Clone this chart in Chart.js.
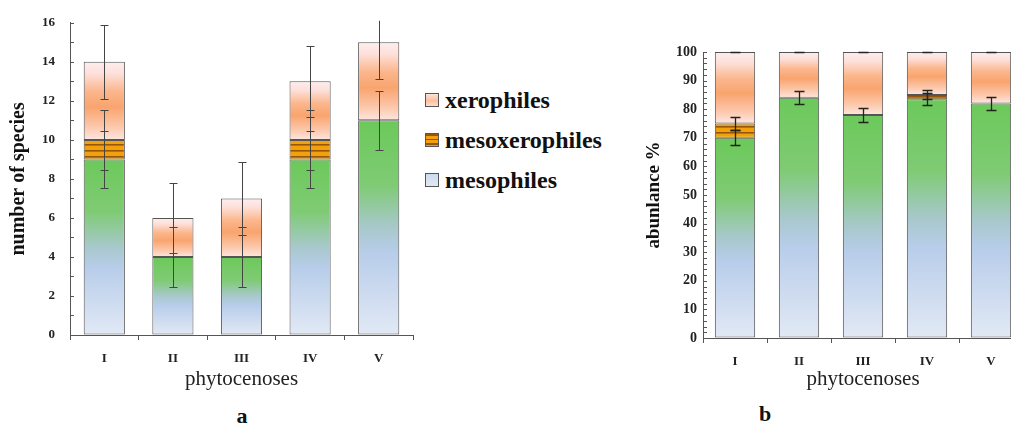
<!DOCTYPE html>
<html>
<head>
<meta charset="utf-8">
<script src="https://cdn.jsdelivr.net/npm/chart.js@4.4.1/dist/chart.umd.min.js"></script>
<style>
  html, body { margin: 0; padding: 0; background: #fff; width: 1011px; height: 424px; overflow: hidden; }
  #chartA { position: absolute; left: 0; top: 0; }
  #chartB { position: absolute; left: 630px; top: 0; }
  .tag { position: absolute; font: bold 22px 'Liberation Serif', serif; color: #111; transform: translate(-50%, -50%); }
  #legendA { position: absolute; left: 425px; top: 80px; font: bold 24px 'Liberation Serif', serif; color: #111; }
  #legendA .item { height: 40px; display: flex; align-items: center; white-space: nowrap; }
  #legendA .sw { width: 14px; height: 14px; border: 1px solid #555; box-sizing: border-box; margin-right: 6px; }
</style>
</head>
<body>
<canvas id="chartA" width="420" height="395"></canvas>
<canvas id="chartB" width="400" height="395"></canvas>
<div id="legendA"></div>
<div class="tag" style="left:242px; top:416px;">a</div>
<div class="tag" style="left:765px; top:414px;">b</div>
<script>
const categories = ['I', 'II', 'III', 'IV', 'V'];

// a - number of species
const mesophilesA = [9, 4, 4, 9, 11];
const mesoxerophilesA = [1, 0, 0, 1, 0];
const xerophilesA = [4, 2, 3, 3, 4];
const mesophilesErrA = [1.47, 1.55, 1.55, 1.47, 1.5];
const mesoxerophilesErrA = [1.55, null, null, 1.55, null];
const xerophilesErrA = [1.9, 1.8, 1.85, 1.82, 1.9];

// b - abundance %
const mesophilesB = [70, 84, 78, 83.5, 82];
const mesoxerophilesB = [5, 0, 0, 1.5, 0];
const xerophilesB = [25, 16, 22, 15, 18];
const mesophilesErrB = [2.6, 2.3, 2.5, 2.0, 2.4];
const mesoxerophilesErrB = [2.1, null, null, 1.6, null];
const xerophilesErrB = [0, 0, 0, 0, 0];

const serif = "'Liberation Serif', 'Times New Roman', serif";
const axisColor = '#555';

// start / end of a stacked segment
function stackRange(c) {
  const ds = c.chart.data.datasets;
  let start = 0;
  for (let k = 0; k < c.datasetIndex; k++) start += ds[k].data[c.dataIndex] || 0;
  return [start, start + (ds[c.datasetIndex].data[c.dataIndex] || 0)];
}

function vGradient(stops, fallback) {
  return (c) => {
    if (c.type !== 'data') return fallback;
    const y = c.chart.scales.y;
    if (!y) return fallback;
    const [s, e] = stackRange(c);
    const top = y.getPixelForValue(e), bot = y.getPixelForValue(s);
    if (!isFinite(top) || !isFinite(bot) || top === bot) return fallback;
    const g = c.chart.ctx.createLinearGradient(0, top, 0, bot);
    stops.forEach(([o, col]) => g.addColorStop(o, col));
    return g;
  };
}

function stripes() {
  const cv = document.createElement('canvas');
  cv.width = 8; cv.height = 6;
  const x = cv.getContext('2d');
  x.fillStyle = '#f2a00c';
  x.fillRect(0, 0, 8, 6);
  x.fillStyle = '#985608';
  x.fillRect(0, 0, 8, 1.6);
  return x.createPattern(cv, 'repeat');
}

const mesoStops = [[0, '#6cc95a'], [0.3, '#7fcb74'], [0.5, '#a8c8cc'], [0.62, '#b8cdea'], [1, '#e2e9f5']];
const xeroStops = [[0, '#fdeeee'], [0.15, '#fde0da'], [0.38, '#fbb68c'], [0.58, '#f9a46e'], [0.82, '#fcc6a8'], [1, '#fde6df']];
const stripeFill = stripes();

const legendCss = {
  'xerophiles': 'linear-gradient(#fde2da, #fcbf9e 55%, #fddcd0)',
  'mesoxerophiles': 'repeating-linear-gradient(to bottom, #985608 0 1.5px, #f2a00c 1.5px 4.5px)',
  'mesophiles': 'linear-gradient(#cddbf0, #e0e8f4)'
};

// legend built from the datasets, listed top stack first
const htmlLegend = {
  id: 'htmlLegend',
  afterUpdate(chart, args, opts) {
    const box = document.getElementById(opts.containerID);
    box.innerHTML = '';
    chart.data.datasets.slice().reverse().forEach((ds) => {
      const row = document.createElement('div');
      row.className = 'item';
      const sw = document.createElement('span');
      sw.className = 'sw';
      sw.style.background = legendCss[ds.label];
      const tx = document.createElement('span');
      tx.textContent = ds.label;
      row.append(sw, tx);
      box.append(row);
    });
  }
};

const errorBars = {
  id: 'errorBars',
  afterDatasetsDraw(chart, args, opts) {
    const c = chart.ctx, y = chart.scales.y, area = chart.chartArea;
    c.save();
    c.beginPath();
    c.rect(area.left, area.top - 2, area.right - area.left, area.bottom - area.top + 4);
    c.clip();
    c.strokeStyle = opts.color;
    c.lineWidth = opts.width;
    chart.data.datasets.forEach((ds, di) => {
      if (!ds.errors) return;
      const meta = chart.getDatasetMeta(di);
      meta.data.forEach((bar, i) => {
        const err = ds.errors[i];
        if (err == null) return;
        const [, end] = stackRange({ chart, datasetIndex: di, dataIndex: i });
        const hi = Math.round(y.getPixelForValue(end + err)) + 0.5;
        const lo = Math.round(y.getPixelForValue(end - err)) + 0.5;
        const x = Math.round(bar.x) + 0.5;
        c.beginPath();
        c.moveTo(x, hi); c.lineTo(x, lo);
        c.moveTo(x - opts.cap, hi); c.lineTo(x + opts.cap, hi);
        c.moveTo(x - opts.cap, lo); c.lineTo(x + opts.cap, lo);
        c.stroke();
      });
    });
    c.restore();
  }
};

// small ticks on the inner side of the value axis
const innerTicks = {
  id: 'innerTicks',
  afterDraw(chart) {
    const y = chart.scales.y, c = chart.ctx;
    c.save();
    c.strokeStyle = axisColor;
    c.lineWidth = 1;
    y.ticks.forEach((t, i) => {
      const py = Math.round(y.getPixelForTick(i)) + 0.5;
      c.beginPath();
      c.moveTo(y.right, py);
      c.lineTo(y.right + 4, py);
      c.stroke();
    });
    c.restore();
  }
};

function makeDatasets(meso, mesoxero, xero, errMeso, errMx, errXero, barPct) {
  const common = { borderColor: axisColor, borderWidth: 1, borderSkipped: false, categoryPercentage: 1, barPercentage: barPct };
  return [
    Object.assign({ label: 'mesophiles', data: meso, errors: errMeso, backgroundColor: vGradient(mesoStops, '#d3dff1') }, common),
    Object.assign({ label: 'mesoxerophiles', data: mesoxero, errors: errMx, backgroundColor: stripeFill }, common),
    Object.assign({ label: 'xerophiles', data: xero, errors: errXero, backgroundColor: vGradient(xeroStops, '#fcc7a6') }, common)
  ];
}

function xScale(height) {
  return {
    stacked: true,
    offset: true,
    border: { display: true, color: axisColor },
    grid: { display: true, drawOnChartArea: false, drawTicks: true, tickLength: 5, color: axisColor, offset: true },
    ticks: { color: '#222', font: { family: serif, size: 13, weight: 'bold' }, padding: 11 },
    title: { display: true, text: 'phytocenoses', color: '#222', font: { family: serif, size: 21 }, padding: { top: 0, bottom: 3 } },
    afterFit: (s) => { s.height = height; }
  };
}

// chart a
new Chart(document.getElementById('chartA'), {
  type: 'bar',
  data: {
    labels: categories,
    datasets: makeDatasets(mesophilesA, mesoxerophilesA, xerophilesA, mesophilesErrA, mesoxerophilesErrA, xerophilesErrA, 0.6)
  },
  options: {
    responsive: false,
    animation: false,
    devicePixelRatio: 1,
    layout: { padding: { top: 16, right: 7, left: 0, bottom: 0 } },
    scales: {
      x: xScale(60),
      y: {
        stacked: true,
        min: 0,
        max: 16,
        border: { display: true, color: axisColor },
        grid: { display: true, drawOnChartArea: false, drawTicks: false },
        ticks: {
          stepSize: 1, autoSkip: false, padding: 15, color: '#222',
          font: { family: serif, size: 13, weight: 'bold' },
          callback: (v) => (v % 2 === 0 ? v : '')
        },
        title: { display: true, text: 'number of species', color: '#111', font: { family: serif, size: 20, weight: 'bold' }, padding: { top: 7, bottom: 0 } },
        afterFit: (s) => { s.width = 70; }
      }
    },
    plugins: {
      tooltip: { enabled: false },
      legend: { display: false },
      htmlLegend: { containerID: 'legendA' },
      errorBars: { color: '#444', width: 1, cap: 4 }
    }
  },
  plugins: [errorBars, innerTicks, htmlLegend]
});

// chart b
new Chart(document.getElementById('chartB'), {
  type: 'bar',
  data: {
    labels: categories,
    datasets: makeDatasets(mesophilesB, mesoxerophilesB, xerophilesB, mesophilesErrB, mesoxerophilesErrB, xerophilesErrB, 0.63)
  },
  options: {
    responsive: false,
    animation: false,
    devicePixelRatio: 1,
    layout: { padding: { top: 52, right: 7, left: 0, bottom: 0 } },
    scales: {
      x: xScale(57),
      y: {
        stacked: true,
        min: 0,
        max: 100,
        border: { display: true, color: axisColor },
        grid: { display: true, drawOnChartArea: false, drawTicks: false },
        ticks: {
          stepSize: 2, autoSkip: false, padding: 6, color: '#222',
          font: { family: serif, size: 14, weight: 'bold' },
          callback: (v) => (v % 10 === 0 ? v : '')
        },
        title: { display: true, text: 'abunlance %', color: '#111', font: { family: serif, size: 19, weight: 'bold' }, padding: { top: 13, bottom: 0 } },
        afterFit: (s) => { s.width = 73; }
      }
    },
    plugins: {
      tooltip: { enabled: false },
      legend: { display: false },
      errorBars: { color: '#222', width: 1.3, cap: 5 }
    }
  },
  plugins: [errorBars, innerTicks]
});
</script>
</body>
</html>
